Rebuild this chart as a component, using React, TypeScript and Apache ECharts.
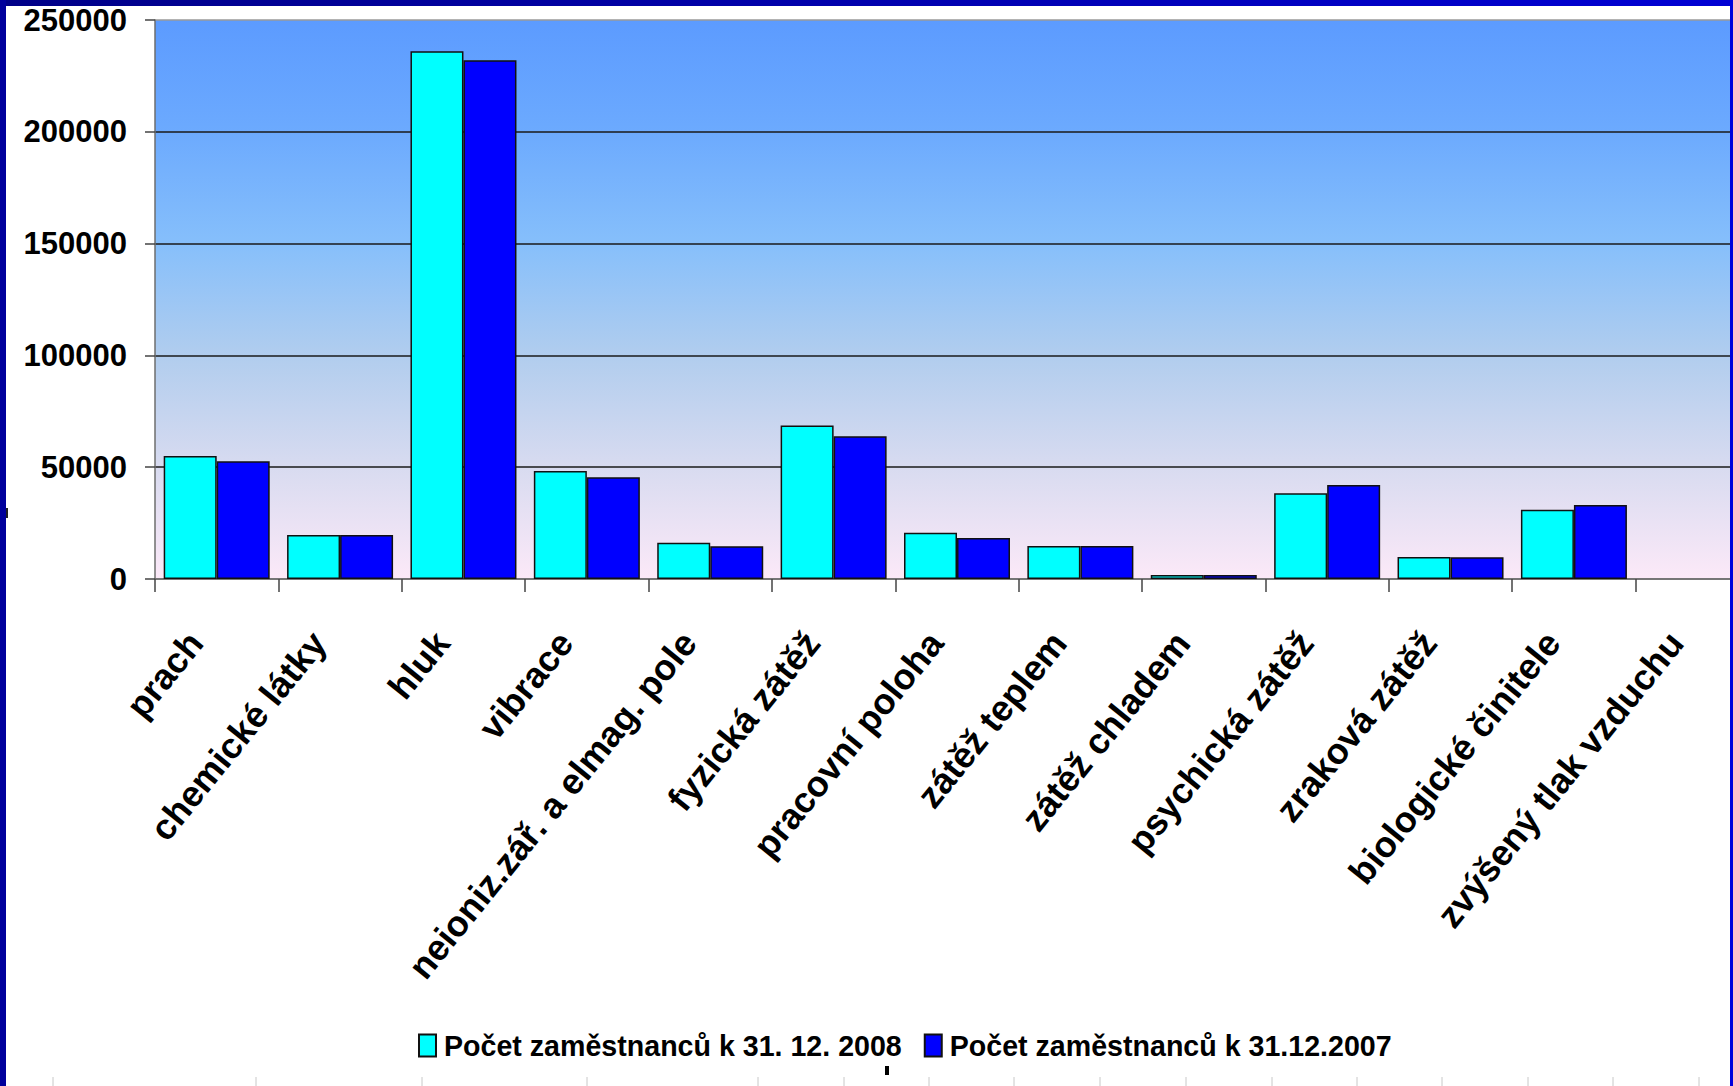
import React, { useEffect, useRef } from "react";
import * as echarts from "echarts";

// Rizikové faktory – počet exponovaných zaměstnanců
const categories = [
  "prach",
  "chemické látky",
  "hluk",
  "vibrace",
  "neioniz.zář. a elmag. pole",
  "fyzická zátěž",
  "pracovní poloha",
  "zátěž teplem",
  "zátěž chladem",
  "psychická zátěž",
  "zraková zátěž",
  "biologické činitele",
  "zvýšený tlak vzduchu",
];

const values2008 = [55000, 19700, 236000, 48300, 16200, 68600, 20700, 14800, 1800, 38300, 9800, 31000, 0];
const values2007 = [52700, 19700, 232000, 45500, 14700, 63800, 18300, 14800, 1800, 42000, 9700, 33100, 0];

const seriesNames = ["Počet zaměstnanců k 31. 12. 2008", "Počet zaměstnanců k 31.12.2007"];

// faint ruler marks along the lower edge of the slide
const rulerMarks = [53, 256, 422, 587, 758, 844, 929, 1014, 1100, 1186, 1272, 1357, 1442, 1528, 1613, 1699];

const FONT = "'Liberation Sans', Arial, Helvetica, sans-serif";

// zero-height bars get no outline, so nothing is drawn over the axis
const toBarData = (values: number[]) =>
  values.map((v) => (v === 0 ? { value: v, itemStyle: { borderWidth: 0 } } : v));

export default function App() {
  const ref = useRef<HTMLDivElement>(null);

  useEffect(() => {
    if (!ref.current) return;
    const chart = echarts.init(ref.current, null, { renderer: "svg" });

    const plotFill = new echarts.graphic.LinearGradient(0, 0, 0, 1, [
      { offset: 0, color: "#5c9bff" },
      { offset: 0.2, color: "#6caafe" },
      { offset: 0.4, color: "#86bffb" },
      { offset: 0.6, color: "#b1cdee" },
      { offset: 0.8, color: "#d8dbf0" },
      { offset: 1, color: "#fce9f8" },
    ]);

    const frameTop = new echarts.graphic.LinearGradient(0, 0, 1, 0, [
      { offset: 0, color: "#000088" },
      { offset: 1, color: "#0000d4" },
    ]);

    const graphics: any[] = [
      { type: "rect", shape: { x: 0, y: 0, width: 1733, height: 6 }, style: { fill: frameTop }, z: 100 },
      { type: "rect", shape: { x: 0, y: 0, width: 6, height: 1086 }, style: { fill: "#00009c" }, z: 100 },
      { type: "rect", shape: { x: 1730, y: 0, width: 3, height: 1086 }, style: { fill: "#0000dc" }, z: 100 },
      { type: "rect", shape: { x: 6, y: 508, width: 2, height: 10 }, style: { fill: "#222" }, z: 100 },
      { type: "rect", shape: { x: 885, y: 1066, width: 4, height: 9 }, style: { fill: "#000" }, z: 100 },
      ...rulerMarks.map((x) => ({
        type: "line",
        shape: { x1: x, y1: 1077, x2: x, y2: 1086 },
        style: { stroke: "#c8c8c8", lineWidth: 1 },
        z: 100,
      })),
    ];

    chart.setOption({
      animation: false,
      backgroundColor: "#ffffff",
      textStyle: { fontFamily: FONT },
      grid: {
        left: 155,
        top: 20,
        width: 1604,
        bottom: 507,
        show: true,
        backgroundColor: plotFill,
        borderWidth: 0,
        containLabel: false,
        outerBoundsMode: "none",
      },
      legend: {
        left: 418,
        top: 1031,
        padding: 0,
        itemWidth: 17,
        itemHeight: 22,
        itemGap: 22,
        icon: "rect",
        textStyle: {
          fontFamily: FONT,
          fontSize: 28.6,
          fontWeight: "bold",
          color: "#000",
          padding: [0, 0, 0, 3],
        },
        data: seriesNames,
      },
      xAxis: {
        type: "category",
        data: categories,
        boundaryGap: true,
        axisLine: { show: true, lineStyle: { color: "#6e6e6e", width: 1.6 } },
        axisTick: { show: true, length: 13, alignWithLabel: false, lineStyle: { color: "#444", width: 1.5 } },
        axisLabel: {
          interval: 0,
          rotate: 51,
          margin: 31,
          padding: [0, 34, 0, 0],
          fontFamily: FONT,
          fontSize: 36,
          fontWeight: "bold",
          color: "#000",
        },
        splitLine: { show: false },
      },
      yAxis: {
        type: "value",
        min: 0,
        max: 250000,
        interval: 50000,
        axisLine: { show: true, lineStyle: { color: "#6e6e6e", width: 1.5 } },
        axisTick: { show: true, length: 10, lineStyle: { color: "#444", width: 1.5 } },
        axisLabel: {
          margin: 28,
          formatter: (v: number) => String(v),
          fontFamily: FONT,
          fontSize: 31,
          fontWeight: "bold",
          color: "#000",
        },
        splitLine: {
          show: true,
          lineStyle: {
            color: ["#6e6e6e", "#1a1a1a", "#1a1a1a", "#1a1a1a", "#1a1a1a", "#9a9a9a"],
            width: 1.5,
          },
        },
      },
      series: [
        {
          name: seriesNames[0],
          type: "bar",
          data: toBarData(values2008),
          barWidth: 53,
          barGap: "0%",
          itemStyle: { color: "#00ffff", borderColor: "#111", borderWidth: 1.5 },
        },
        {
          name: seriesNames[1],
          type: "bar",
          data: toBarData(values2007),
          barWidth: 53,
          barGap: "0%",
          itemStyle: { color: "#0000ff", borderColor: "#111", borderWidth: 1.5 },
        },
      ],
      graphic: graphics,
    });

    return () => chart.dispose();
  }, []);

  return (
    <div
      ref={ref}
      style={{ position: "fixed", left: 0, top: 0, width: 1733, height: 1086, background: "#fff" }}
    />
  );
}
